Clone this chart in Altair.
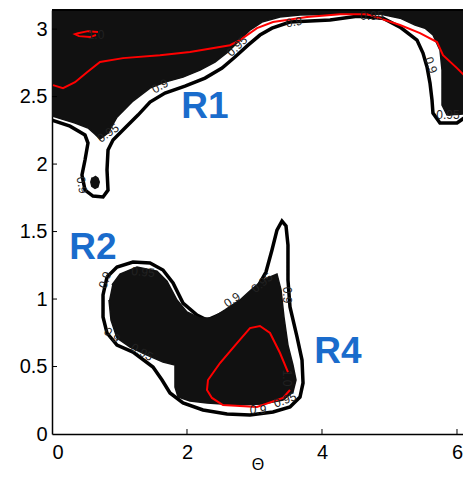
import altair as alt
import pandas as pd

# ---- contour data (Theta, phi) ----
r1_fill_x = [0, 0, 0.148, 0.341, 0.533, 0.637, 0.711, 0.830, 0.963, 1.2, 1.452, 1.674, 1.941, 2.193, 2.415,
             2.607, 2.785, 2.933, 3.111, 3.378, 3.674, 4.267, 4.859, 5.156, 5.378, 5.526, 5.644, 5.748,
             5.778, 5.778, 5.852, 6.044, 6.3, 6.3]
r1_fill_y = [3.1416, 2.356, 2.333, 2.304, 2.267, 2.222, 2.185, 2.230, 2.348, 2.467, 2.563, 2.607, 2.644,
             2.696, 2.756, 2.830, 2.919, 2.993, 3.052, 3.089, 3.104, 3.111, 3.111, 3.081, 3.030, 3.007,
             2.956, 2.844, 2.696, 2.437, 2.363, 2.370, 2.38, 3.1416]

r1_line_x = [0, 0.267, 0.489, 0.533, 0.489, 0.444, 0.489, 0.607, 0.756, 0.830, 0.815, 0.830, 0.904, 1.081,
             1.274, 1.452, 1.674, 1.970, 2.267, 2.519, 2.711, 2.904, 3.081, 3.259, 3.526, 4.119, 4.519,
             4.904, 5.156, 5.407, 5.496, 5.556, 5.6, 5.630, 5.644, 5.748, 6.0, 6.207, 6.3]
r1_line_y = [2.326, 2.281, 2.215, 2.156, 2.030, 1.919, 1.807, 1.763, 1.756, 1.807, 1.956, 2.104, 2.178,
             2.267, 2.363, 2.459, 2.526, 2.578, 2.637, 2.711, 2.793, 2.881, 2.956, 3.007, 3.052, 3.067,
             3.095, 3.081, 3.015, 2.919, 2.822, 2.719, 2.6, 2.474, 2.378, 2.304, 2.304, 2.378, 2.33]

r1_red_x = [0.015, 0.163, 0.341, 0.519, 0.711, 1.052, 1.6, 2.044, 2.637, 2.785, 3.037, 3.274, 3.778,
            4.267, 4.667, 5.156, 5.452, 5.704, 5.793, 6.0, 6.207, 6.3]
r1_red_y = [2.585, 2.563, 2.607, 2.681, 2.756, 2.785, 2.807, 2.830, 2.881, 2.919, 3.007, 3.052, 3.089,
            3.111, 3.111, 3.030, 2.970, 2.904, 2.807, 2.711, 2.607, 2.55]

loop_red_x = [0.681, 0.533, 0.385, 0.341, 0.4, 0.563, 0.652]
loop_red_y = [2.978, 2.985, 2.970, 2.963, 2.948, 2.941, 2.956]

dot_x = [0.637, 0.68, 0.70, 0.68, 0.637, 0.59, 0.575, 0.595]
dot_y = [1.911, 1.896, 1.867, 1.83, 1.82, 1.835, 1.867, 1.90]

r24_fill_x = [0.889, 1.007, 1.259, 1.556, 1.704, 1.852, 2.0, 2.193, 2.370, 2.563, 2.785, 2.963, 3.126,
              3.333, 3.393, 3.437, 3.496, 3.570, 3.615, 3.570, 3.422, 3.126, 2.741, 2.296, 2.044, 1.867,
              1.822, 1.822, 1.644, 1.407, 1.156, 0.963, 0.874, 0.844]
r24_fill_y = [1.104, 1.185, 1.237, 1.207, 1.133, 0.993, 0.904, 0.859, 0.859, 0.919, 0.993, 1.074, 1.141,
              1.185, 1.067, 0.867, 0.659, 0.511, 0.4, 0.311, 0.252, 0.222, 0.215, 0.230, 0.244, 0.274,
              0.348, 0.511, 0.533, 0.585, 0.644, 0.711, 0.844, 0.993]

r24_line_x = [0.815, 0.963, 1.2, 1.452, 1.644, 1.793, 1.941, 2.148, 2.296, 2.533, 2.785, 3.037, 3.170,
              3.259, 3.333, 3.407, 3.467, 3.496, 3.496, 3.526, 3.630, 3.704, 3.719, 3.674, 3.526, 3.274,
              2.933, 2.593, 2.237, 1.941, 1.748, 1.630, 1.496, 1.2, 0.963, 0.815, 0.756, 0.756, 0.815]
r24_line_y = [1.163, 1.237, 1.274, 1.267, 1.215, 1.119, 0.970, 0.881, 0.844, 0.896, 0.970, 1.081, 1.2,
              1.363, 1.511, 1.578, 1.541, 1.4, 1.141, 0.941, 0.719, 0.548, 0.378, 0.274, 0.2, 0.163,
              0.141, 0.148, 0.178, 0.230, 0.304, 0.4, 0.496, 0.607, 0.659, 0.748, 0.867, 1.030, 1.163]

r4_red_x = [3.496, 3.378, 3.230, 3.081, 2.933, 2.741, 2.489, 2.311, 2.296, 2.370, 2.533, 3.037, 3.422, 3.526]
r4_red_y = [0.459, 0.6, 0.748, 0.8, 0.785, 0.674, 0.526, 0.4, 0.326, 0.267, 0.215, 0.2, 0.267, 0.326]

lab_text = ["0.9", "0.95", "0.9", "0.95", "0.9", "0.95", "0.95", "0.95", "0.9", "0.9", "0.95",
            "0.9", "0.95", "0.9", "0.9", "0.95", "1.0", "1.0", "0.9"]
lab_x = [1.6, 2.741, 3.585, 4.74, 5.615, 5.867, 0.83, 1.348, 0.785, 0.889, 1.333,
         2.667, 3.111, 3.481, 3.052, 3.452, 3.481, 0.652, 0.444]
lab_y = [2.578, 2.874, 3.052, 3.095, 2.733, 2.363, 2.23, 1.2, 1.141, 0.733, 0.607,
         0.993, 1.119, 1.030, 0.178, 0.252, 0.415, 2.956, 1.844]
lab_angle = [330, 315, 350, 0, 70, 0, 325, 5, 290, 40, 30, 325, 320, 90, 0, 340, 90, 0, 80]

region_names = ["R1", "R2", "R4"]
region_x = [2.267, 0.607, 4.237]
region_y = [2.422, 1.378, 0.607]

x_ticks = [0, 2, 4, 6]
y_ticks = [0, 0.5, 1, 1.5, 2, 2.5, 3]


def frame(name, xs, ys):
    return pd.DataFrame({"theta": xs, "phi": ys, "part": name, "i": list(range(len(xs)))})


fills = pd.concat([frame("r1", r1_fill_x, r1_fill_y), frame("r24", r24_fill_x, r24_fill_y),
                   frame("dot", dot_x, dot_y)])
outlines = pd.concat([frame("r1", r1_line_x, r1_line_y), frame("r24", r24_line_x, r24_line_y)])
reds = pd.concat([frame("r1", r1_red_x, r1_red_y), frame("loop", loop_red_x, loop_red_y),
                  frame("r4", r4_red_x, r4_red_y)])
labels = pd.DataFrame({"theta": lab_x, "phi": lab_y, "t": lab_text, "a": lab_angle})
regions = pd.DataFrame({"theta": region_x, "phi": region_y, "t": region_names})
ticks_x = pd.DataFrame({"theta": x_ticks[1:]})
ticks_y = pd.DataFrame({"phi": y_ticks[1:]})

W, H = 411, 424
xs = alt.Scale(domain=[0, 6.089], nice=False, zero=False)
ys = alt.Scale(domain=[0, 3.1416], nice=False, zero=False)
xaxis = alt.Axis(values=x_ticks, title="Θ", labelFontSize=20, tickSize=0, labelPadding=8,
                 titleFontSize=16, titleFontWeight="normal", titlePadding=-6, format="~g")
yaxis = alt.Axis(values=y_ticks, title=None, labelFontSize=20, tickSize=0, labelPadding=5, format="~g")
X = alt.X("theta:Q", scale=xs, axis=xaxis)
Y = alt.Y("phi:Q", scale=ys, axis=yaxis)

outer = alt.Chart(outlines).mark_line(stroke="#000000", strokeWidth=3.5, clip=True).encode(
    x=X, y=Y, order="i:Q", detail="part:N")
fill = alt.Chart(fills).mark_line(fill="#111111", stroke="#111111", strokeWidth=1.5, clip=True).encode(
    x=X, y=Y, order="i:Q", detail="part:N")
red = alt.Chart(reds).mark_line(stroke="#ff0000", strokeWidth=2, clip=True).encode(
    x=X, y=Y, order="i:Q", detail="part:N")
txt = alt.Chart(labels).mark_text(fontSize=12, color="#222222", font="Liberation Sans", clip=True).encode(
    x=X, y=Y, text="t:N", angle=alt.Angle("a:Q", scale=None))
reg = alt.Chart(regions).mark_text(fontSize=37, fontWeight="bold", color="#1a6ccc",
                                    font="Liberation Sans").encode(x=X, y=Y, text="t:N")
xtick = alt.Chart(ticks_x).mark_rule(color="black", strokeWidth=1).encode(
    x=X, y=alt.value(H), y2=alt.value(H - 5))
ytick = alt.Chart(ticks_y).mark_rule(color="black", strokeWidth=1).encode(
    y=Y, x=alt.value(0), x2=alt.value(5))
topline = alt.Chart(ticks_x).mark_rule(color="black", strokeWidth=1.5).encode(
    y=alt.value(0), x=alt.value(0), x2=alt.value(W))

chart = alt.layer(outer, fill, red, txt, reg, xtick, ytick, topline).properties(
    width=W, height=H, autosize=alt.AutoSizeParams(type="none"),
    padding={"left": 44, "top": 2, "right": 0, "bottom": 37},
).configure_view(strokeWidth=0).configure_axis(
    grid=False, domainColor="black", domainWidth=1.5, labelColor="black", titleColor="black",
    labelFont="Liberation Sans", titleFont="Liberation Sans")

chart.save("out.html", embed_options={"renderer": "svg", "actions": False})
